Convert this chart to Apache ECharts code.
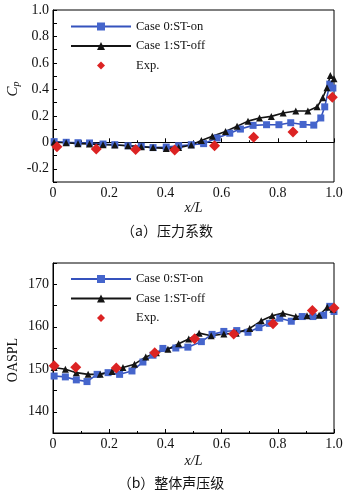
<!DOCTYPE html>
<html>
<head>
<meta charset="utf-8">
<script src="https://cdn.jsdelivr.net/npm/echarts@6/dist/echarts.min.js"></script>
<style>html,body{margin:0;padding:0;background:#fff}#c{width:347px;height:495px}</style>
</head>
<body>
<div id="c"></div>
<script>
// ---- Data: (a) pressure coefficient ----
const cpCase0X = [0.004,0.047,0.089,0.13,0.178,0.22,0.267,0.314,0.356,0.403,0.447,0.492,0.536,0.584,0.629,0.667,0.712,0.76,0.804,0.846,0.89,0.928,0.953,0.967,0.985,0.996];
const cpCase0Y = [0.005,0,-0.003,-0.005,-0.013,-0.018,-0.026,-0.03,-0.04,-0.036,-0.026,-0.018,-0.01,0.033,0.069,0.10,0.128,0.133,0.133,0.148,0.135,0.13,0.184,0.268,0.44,0.41];
const cpCase1X = [0.004,0.047,0.089,0.13,0.178,0.22,0.267,0.314,0.356,0.403,0.447,0.492,0.528,0.567,0.614,0.655,0.694,0.735,0.777,0.819,0.864,0.907,0.94,0.96,0.975,0.987,1.0];
const cpCase1Y = [0,-0.003,-0.01,-0.013,-0.018,-0.02,-0.026,-0.033,-0.04,-0.046,-0.04,-0.02,0.013,0.046,0.082,0.122,0.16,0.184,0.196,0.222,0.237,0.237,0.268,0.337,0.413,0.505,0.48];
const cpExpX = [0.014,0.154,0.294,0.433,0.575,0.714,0.854,0.994];
const cpExpY = [-0.033,-0.051,-0.054,-0.059,-0.026,0.038,0.077,0.34];

// ---- Data: (b) OASPL ----
const spCase0X = [0.004,0.044,0.083,0.121,0.157,0.196,0.237,0.281,0.32,0.356,0.391,0.437,0.48,0.528,0.566,0.608,0.654,0.694,0.733,0.77,0.807,0.848,0.887,0.925,0.963,0.985,1.0];
const spCase0Y = [148.4,148.2,147.5,147.1,148.8,149.2,148.8,149.6,151.7,153.3,154.9,155.0,155.2,156.5,158.2,158.9,159.1,158.7,159.8,160.8,162.0,161.3,162.4,162.4,162.7,164.8,163.6];
const spCase1X = [0.004,0.044,0.083,0.125,0.168,0.21,0.249,0.29,0.33,0.368,0.409,0.447,0.483,0.52,0.563,0.608,0.652,0.7,0.741,0.78,0.818,0.864,0.904,0.947,0.976,0.996];
const spCase1Y = [150.4,150.0,149.2,148.8,148.8,149.5,150.4,151.2,152.9,153.9,154.7,156.0,157.1,158.5,157.9,158.3,158.5,159.6,161.4,162.6,163.2,162.4,162.6,162.7,164.6,164.1];
const spExpX = [0.004,0.081,0.225,0.362,0.504,0.643,0.783,0.923,1.0];
const spExpY = [150.8,150.5,150.3,153.9,157.2,158.3,160.7,163.8,164.4];

// ---- Labels ----
const seriesNames = ['Case 0:ST-on', 'Case 1:ST-off', 'Exp.'];
const xTickLabels = ['0', '0.2', '0.4', '0.6', '0.8', '1.0'];
const cpTickLabels = ['-0.2', '0', '0.2', '0.4', '0.6', '0.8', '1.0'];
const spTickLabels = ['140', '150', '160', '170'];
const captionA = '（a）压力系数';
const captionB = '（b）整体声压级';

const zip = (xs, ys) => xs.map((x, i) => [x, ys[i]]);
const SERIF = '"Liberation Serif","DejaVu Serif",serif';
const BLUE = '#3552bd', BLUE_M = '#4565cc', BLACK = '#141414', RED = '#dc2323';

function xAxisCfg(gi, gap) {
  return {
    type: 'value', gridIndex: gi, min: 0, max: 1, interval: 0.2,
    name: 'x/L', nameLocation: 'middle', nameGap: gap,
    nameTextStyle: { fontFamily: SERIF, fontStyle: 'italic', fontSize: 14, color: '#111' },
    axisLine: { show: true, lineStyle: { color: '#000', width: 1 } },
    axisTick: { show: true, inside: true, length: 4, lineStyle: { color: '#000' } },
    minorTick: { show: true, splitNumber: 2, length: 2, lineStyle: { color: '#000' } },
    splitLine: { show: false },
    axisLabel: {
      fontFamily: SERIF, fontSize: 14, color: '#111', margin: 4,
      formatter: v => { const i = Math.round(v / 0.2); return xTickLabels[i] !== undefined && Math.abs(v - i * 0.2) < 1e-6 ? xTickLabels[i] : ''; }
    }
  };
}

const gridBase = { left: 53, width: 281, show: true, borderColor: '#000', borderWidth: 1, backgroundColor: 'transparent', containLabel: false, outerBoundsMode: 'none' };

const option = {
  animation: false,
  backgroundColor: '#fff',
  grid: [
    Object.assign({}, gridBase, { top: 10, height: 172 }),
    Object.assign({}, gridBase, { top: 263, height: 170 })
  ],
  xAxis: [xAxisCfg(0, 18), xAxisCfg(1, 21)],
  yAxis: [
    {
      type: 'value', gridIndex: 0, min: -0.3, max: 1.0, interval: 0.1,
      axisLine: { show: true, lineStyle: { color: '#000', width: 1 } },
      axisTick: { show: true, inside: true, length: 4, lineStyle: { color: '#000' } },
      splitLine: { show: false },
      axisLabel: {
        fontFamily: SERIF, fontSize: 14, color: '#111', margin: 4,
        formatter: v => {
          const t = Math.round(v * 10);
          if (t % 2 !== 0) return '';
          const s = t === 0 ? '0' : (t / 10).toFixed(1);
          return cpTickLabels.indexOf(s) >= 0 ? s : '';
        }
      }
    },
    {
      type: 'value', gridIndex: 1, min: 135, max: 175, interval: 5,
      axisLine: { show: true, lineStyle: { color: '#000', width: 1 } },
      axisTick: { show: true, inside: true, length: 4, lineStyle: { color: '#000' } },
      splitLine: { show: false },
      axisLabel: {
        fontFamily: SERIF, fontSize: 14, color: '#111', margin: 4,
        formatter: v => { const s = String(Math.round(v)); return spTickLabels.indexOf(s) >= 0 && Math.abs(v - Math.round(v)) < 1e-6 ? s : ''; }
      }
    }
  ],
  legend: [
    {
      left: 65, top: 15, padding: 5, orient: 'vertical', itemWidth: 60, itemHeight: 10, itemGap: 6.5,
      textStyle: { fontFamily: SERIF, fontSize: 12.5, color: '#111', lineHeight: 10 },
      data: seriesNames.map(n => ({ name: n })),
      selectedMode: false
    }
  ],
  graphic: [
    { type: 'text', x: 167, y: 231, style: { text: captionA, font: '14px "Noto Sans CJK SC"', fill: '#111', align: 'center', verticalAlign: 'middle' } },
    { type: 'text', x: 171, y: 483, style: { text: captionB, font: '14px "Noto Sans CJK SC"', fill: '#111', align: 'center', verticalAlign: 'middle' } },
    {
      type: 'text', x: 13, y: 89, rotation: Math.PI / 2,
      style: {
        text: '{c|C}{p|p}', align: 'center', verticalAlign: 'middle',
        rich: {
          c: { fontFamily: SERIF, fontStyle: 'italic', fontSize: 15, fill: '#111', lineHeight: 16, verticalAlign: 'bottom' },
          p: { fontFamily: SERIF, fontStyle: 'italic', fontSize: 10, fill: '#111', lineHeight: 10, verticalAlign: 'bottom' }
        }
      }
    },
    { type: 'text', x: 13, y: 360, rotation: Math.PI / 2, style: { text: 'OASPL', font: '14px "Liberation Serif"', fill: '#111', align: 'center', verticalAlign: 'middle' } }
  ],
  series: []
};

function mk(name, xi, data, kind) {
  const base = { name, type: 'line', xAxisIndex: xi, yAxisIndex: xi, data, z: 3 };
  if (kind === 0) return Object.assign(base, { symbol: 'rect', symbolSize: 7, lineStyle: { color: BLUE, width: 1.6 }, itemStyle: { color: BLUE_M } });
  if (kind === 1) return Object.assign(base, { symbol: 'triangle', symbolSize: 7, lineStyle: { color: BLACK, width: 1.6 }, itemStyle: { color: BLACK } });
  return Object.assign(base, { symbol: 'diamond', symbolSize: 11, z: 4, lineStyle: { width: 0, opacity: 0 }, itemStyle: { color: RED } });
}

option.series.push(mk(seriesNames[0], 0, zip(cpCase0X, cpCase0Y), 0));
option.series.push(mk(seriesNames[1], 0, zip(cpCase1X, cpCase1Y), 1));
option.series.push(mk(seriesNames[2], 0, zip(cpExpX, cpExpY), 2));
option.series.push(mk(seriesNames[0], 1, zip(spCase0X, spCase0Y), 0));
option.series.push(mk(seriesNames[1], 1, zip(spCase1X, spCase1Y), 1));
option.series.push(mk(seriesNames[2], 1, zip(spExpX, spExpY), 2));

option.legend.push(Object.assign({}, option.legend[0], { top: 267.5 }));

const chart = echarts.init(document.getElementById('c'), null, { renderer: 'canvas' });
chart.setOption(option);
</script>
</body>
</html>
